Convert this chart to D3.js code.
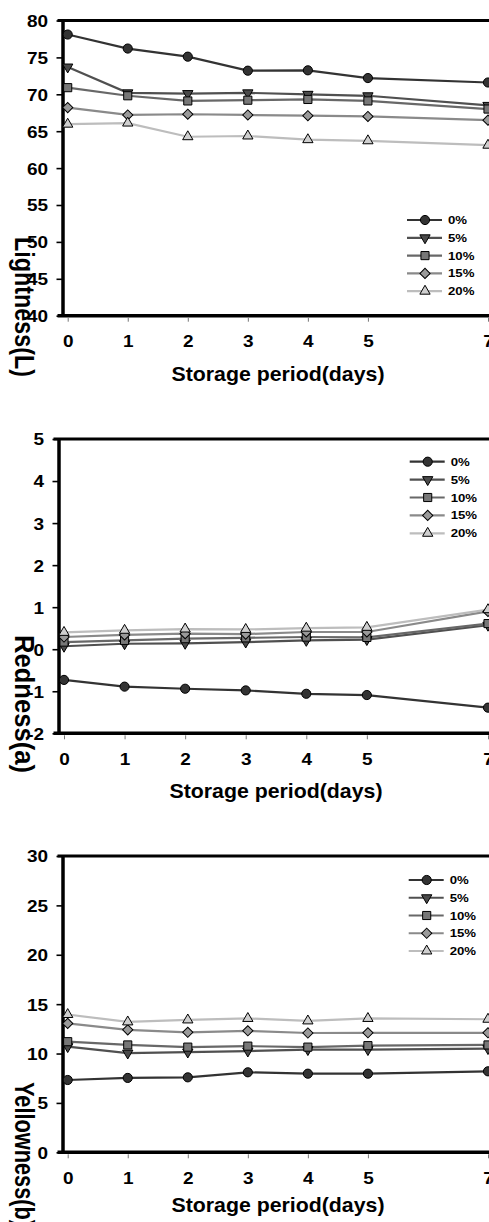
<!DOCTYPE html>
<html>
<head>
<meta charset="utf-8">
<script src="https://cdn.jsdelivr.net/npm/d3@7"></script>
<style>
  html, body { margin: 0; padding: 0; background: #fff; }
  svg { display: block; }
  text { font-family: "Liberation Sans", Arial, sans-serif; font-weight: bold; fill: #000; }
</style>
</head>
<body>
<svg id="chart" width="489" height="1222"></svg>
<script>
// ---------- DATA ----------
const days = [0, 1, 2, 3, 4, 5, 7];
const seriesNames = ["0%", "5%", "10%", "15%", "20%"];

const lightnessValues = [
  [78.1, 76.2, 75.1, 73.2, 73.25, 72.2, 71.6],
  [73.7, 70.2, 70.1, 70.2, 70.0, 69.8, 68.5],
  [70.9, 69.8, 69.1, 69.2, 69.3, 69.1, 68.0],
  [68.2, 67.2, 67.3, 67.2, 67.1, 67.0, 66.5],
  [65.95, 66.1, 64.25, 64.35, 63.85, 63.7, 63.1]
];
const rednessValues = [
  [-0.73, -0.89, -0.94, -0.98, -1.06, -1.09, -1.39],
  [0.07, 0.13, 0.14, 0.17, 0.21, 0.23, 0.57],
  [0.17, 0.21, 0.25, 0.27, 0.29, 0.28, 0.61],
  [0.29, 0.34, 0.37, 0.36, 0.41, 0.41, 0.90],
  [0.40, 0.45, 0.48, 0.47, 0.50, 0.52, 0.94]
];
const yellownessValues = [
  [7.32, 7.53, 7.59, 8.10, 7.96, 7.96, 8.20],
  [10.7, 10.05, 10.15, 10.25, 10.4, 10.4, 10.5],
  [11.2, 10.87, 10.65, 10.75, 10.65, 10.8, 10.87],
  [13.05, 12.4, 12.15, 12.3, 12.08, 12.1, 12.1],
  [13.95, 13.2, 13.4, 13.55, 13.3, 13.55, 13.47]
];

const lightnessTicks = [40, 45, 50, 55, 60, 65, 70, 75, 80];
const rednessTicks = [-2, -1, 0, 1, 2, 3, 4, 5];
const yellownessTicks = [0, 5, 10, 15, 20, 25, 30];
const dayTicks = [0, 1, 2, 3, 4, 5, 7];

const xTitle = "Storage period(days)";
const yTitles = ["Lightness(L)", "Redness(a)", "Yellowness(b)"];

// ---------- STYLES ----------
const lineColors = ["#333333", "#505050", "#686868", "#8a8a8a", "#bdbdbd"];
const fillColors = ["#333333", "#4a4a4a", "#777777", "#9a9a9a", "#cfcfcf"];
const symbolTypes = ["circle", "triDown", "square", "diamond", "triUp"];

function symbolPath(type) {
  switch (type) {
    case "circle": return d3.symbol(d3.symbolCircle, 66)();
    case "square": return d3.symbol(d3.symbolSquare, 66)();
    case "diamond": return d3.symbol(d3.symbolSquare, 52)();
    case "triUp": return d3.symbol(d3.symbolTriangle, 46)();
    case "triDown": return d3.symbol(d3.symbolTriangle, 46)();
  }
}
function symbolRot(type) {
  if (type === "diamond") return 45;
  if (type === "triDown") return 180;
  return 0;
}

// ---------- LAYOUT ----------
const panels = [
  { values: lightnessValues, ticks: lightnessTicks, domain: [40, 80],
    axisX: 62.5, top: 20.5, bottom: 315.7, x0: 67.7, x7: 488,
    legendX: 425, legendY: 220, legendStep: 17.8,
    titleY: 237, titleLen: 140, xTitleX: 278, xTitleY: 381 },
  { values: rednessValues, ticks: rednessTicks, domain: [-2, 5],
    axisX: 58.5, top: 439, bottom: 733.3, x0: 64, x7: 488,
    legendX: 427.7, legendY: 461.7, legendStep: 17.9,
    titleY: 635, titleLen: 138, xTitleX: 276, xTitleY: 798 },
  { values: yellownessValues, ticks: yellownessTicks, domain: [0, 30],
    axisX: 62.5, top: 856, bottom: 1152.3, x0: 67.7, x7: 488,
    legendX: 426.7, legendY: 880, legendStep: 17.75,
    titleY: 1082, titleLen: 145, xTitleX: 278, xTitleY: 1211.7 }
];

const svg = d3.select("#chart");
const TICK_STRETCH = 1.15;

panels.forEach((p, pi) => {
  const g = svg.append("g");
  const x = d3.scaleLinear().domain([0, 7]).range([p.x0, p.x7]);
  const y = d3.scaleLinear().domain(p.domain).range([p.bottom, p.top]);

  // top frame line
  g.append("line")
    .attr("x1", p.axisX - 5).attr("x2", 500)
    .attr("y1", p.top).attr("y2", p.top)
    .attr("stroke", "#000").attr("stroke-width", 3.2);

  // y axis
  const yAxis = g.append("g")
    .attr("transform", `translate(${p.axisX},0)`)
    .call(d3.axisLeft(y).tickValues(p.ticks).tickSize(6).tickSizeOuter(0)
      .tickFormat(d => String(d)));
  yAxis.select(".domain").attr("stroke", "#000").attr("stroke-width", 3.5);
  yAxis.selectAll(".tick line").attr("stroke", "#000").attr("stroke-width", 1.6);
  yAxis.selectAll(".tick text")
    .attr("x", null).attr("y", null).attr("dy", "0.36em")
    .attr("text-anchor", "end")
    .style("font-size", "16.5px")
    .attr("transform", `translate(-14.5,0) scale(${TICK_STRETCH},1)`);
  yAxis.attr("font-family", null).attr("font-size", null);

  // x axis line (bottom)
  g.append("line")
    .attr("x1", p.axisX - 5).attr("x2", 500)
    .attr("y1", p.bottom).attr("y2", p.bottom)
    .attr("stroke", "#000").attr("stroke-width", 3.5);

  const xAxis = g.append("g")
    .attr("transform", `translate(0,${p.bottom})`)
    .call(d3.axisBottom(x).tickValues(dayTicks).tickSize(6).tickSizeOuter(0)
      .tickFormat(d => String(d)));
  xAxis.select(".domain").remove();
  xAxis.selectAll(".tick line")
    .attr("y1", 2).attr("y2", 6)
    .attr("stroke", "#777").attr("stroke-width", 1);
  xAxis.selectAll(".tick text")
    .attr("y", null).attr("dy", null)
    .attr("text-anchor", "middle")
    .style("font-size", "16.5px")
    .attr("transform", `translate(0,31.5) scale(${TICK_STRETCH},1)`);
  xAxis.attr("font-family", null).attr("font-size", null);

  // series lines and markers
  const line = d3.line().x((d, i) => x(days[i])).y(d => y(d));
  p.values.forEach((vals, si) => {
    g.append("path")
      .attr("d", line(vals))
      .attr("fill", "none")
      .attr("stroke", lineColors[si])
      .attr("stroke-width", 2.2);
  });
  p.values.forEach((vals, si) => {
    g.selectAll(null).data(vals).enter().append("path")
      .attr("d", symbolPath(symbolTypes[si]))
      .attr("transform", (d, i) => `translate(${x(days[i])},${y(d)}) rotate(${symbolRot(symbolTypes[si])})`)
      .attr("fill", fillColors[si])
      .attr("stroke", "#000")
      .attr("stroke-width", 1);
  });

  // legend
  seriesNames.forEach((name, si) => {
    const ly = p.legendY + si * p.legendStep;
    g.append("line")
      .attr("x1", p.legendX - 18).attr("x2", p.legendX + 17)
      .attr("y1", ly).attr("y2", ly)
      .attr("stroke", lineColors[si]).attr("stroke-width", 2.2);
    g.append("path")
      .attr("d", symbolPath(symbolTypes[si]))
      .attr("transform", `translate(${p.legendX},${ly}) rotate(${symbolRot(symbolTypes[si])})`)
      .attr("fill", fillColors[si]).attr("stroke", "#000").attr("stroke-width", 1);
    g.append("text")
      .attr("transform", `translate(${p.legendX + 23},${ly + 4}) scale(1.2,1)`)
      .style("font-size", "11px")
      .text(name);
  });

  // x title
  g.append("text")
    .attr("x", p.xTitleX).attr("y", p.xTitleY)
    .attr("text-anchor", "middle")
    .attr("textLength", 213).attr("lengthAdjust", "spacingAndGlyphs")
    .style("font-size", "20.5px")
    .text(xTitle);

  // y title (rotated, reading top to bottom)
  g.append("text")
    .attr("transform", `translate(15,${p.titleY}) rotate(90)`)
    .attr("x", 0).attr("y", 0)
    .attr("textLength", p.titleLen).attr("lengthAdjust", "spacingAndGlyphs")
    .style("font-size", "27px")
    .text(yTitles[pi]);
});
</script>
</body>
</html>
